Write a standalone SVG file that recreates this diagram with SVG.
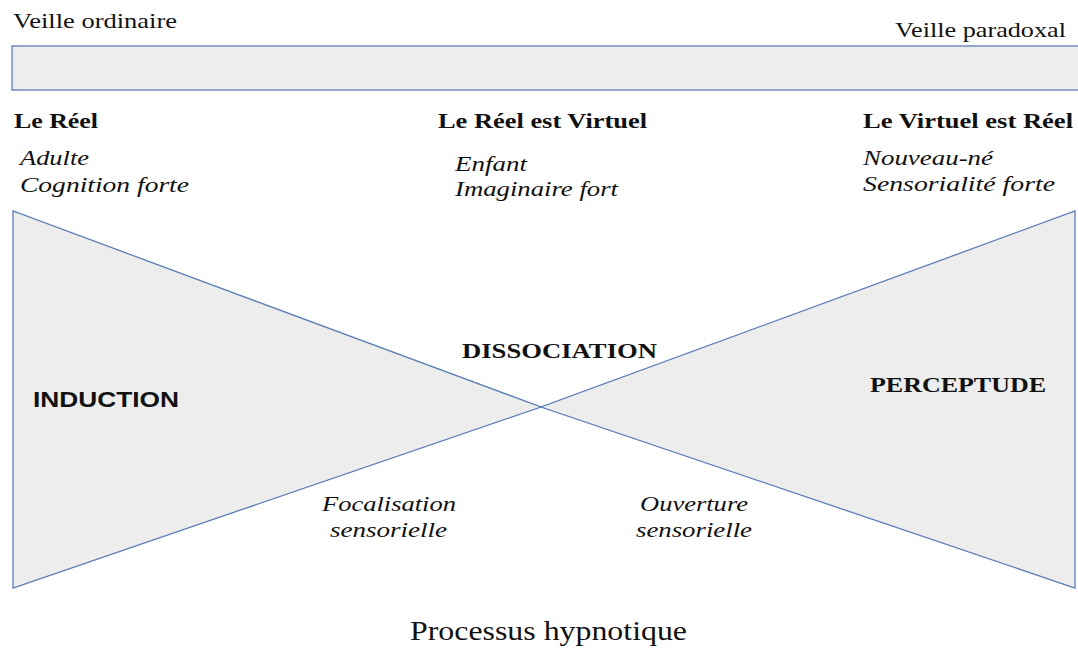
<svg xmlns="http://www.w3.org/2000/svg" width="1078" height="648" viewBox="0 0 1078 648">
<style>
.shape{fill:#ededed;stroke:#5a7db4;stroke-width:1.3}
.t{font-family:"Liberation Serif","Times New Roman",serif;fill:#111;font-size:22px}
.b{font-family:"Liberation Serif","Times New Roman",serif;font-weight:bold;fill:#111;font-size:22px}
.i{font-family:"Liberation Serif","Times New Roman",serif;font-style:italic;fill:#111;font-size:20px}
.s{font-family:"Liberation Sans",Arial,sans-serif;font-weight:bold;fill:#111;font-size:22px}
.cap{font-family:"Liberation Serif","Times New Roman",serif;fill:#111;font-size:27px}
</style>
<rect width="1078" height="648" fill="#ffffff"/>
<g id="bar">
<rect class="shape" x="12" y="46" width="1080" height="44"/>
</g>
<g id="header">
<text class="t" x="13" y="28" textLength="164" lengthAdjust="spacingAndGlyphs">Veille ordinaire</text>
<text class="t" x="895" y="37" textLength="171" lengthAdjust="spacingAndGlyphs">Veille paradoxal</text>
</g>
<g id="col-reel">
<text class="b" x="14" y="128" textLength="84" lengthAdjust="spacingAndGlyphs">Le Réel</text>
<text class="i" x="20" y="165" textLength="69" lengthAdjust="spacingAndGlyphs">Adulte</text>
<text class="i" x="20" y="192" textLength="169" lengthAdjust="spacingAndGlyphs">Cognition  forte</text>
</g>
<g id="col-reel-virtuel">
<text class="b" x="438" y="128" textLength="209" lengthAdjust="spacingAndGlyphs">Le Réel est Virtuel</text>
<text class="i" x="455" y="171" textLength="72" lengthAdjust="spacingAndGlyphs">Enfant</text>
<text class="i" x="455" y="196" textLength="163" lengthAdjust="spacingAndGlyphs">Imaginaire fort</text>
</g>
<g id="col-virtuel-reel">
<text class="b" x="863" y="128" textLength="210" lengthAdjust="spacingAndGlyphs">Le Virtuel est Réel</text>
<text class="i" x="863" y="165" textLength="130" lengthAdjust="spacingAndGlyphs">Nouveau-né</text>
<text class="i" x="863" y="191" textLength="192" lengthAdjust="spacingAndGlyphs">Sensorialité  forte</text>
</g>
<g id="connectors">
<polygon id="induction-shape" class="shape" points="13,211 13,588 541,407"/>
<polygon id="perceptude-shape" class="shape" points="1075,211 1075,588 541,407"/>
</g>
<g id="induction">
<text class="s" x="33" y="407" textLength="146" lengthAdjust="spacingAndGlyphs">INDUCTION</text>
</g>
<g id="dissociation">
<text class="b" x="462" y="358" textLength="195" lengthAdjust="spacingAndGlyphs">DISSOCIATION</text>
</g>
<g id="perceptude">
<text class="b" x="870" y="392" textLength="176" lengthAdjust="spacingAndGlyphs">PERCEPTUDE</text>
</g>
<g id="focalisation">
<text class="i" x="322" y="511" textLength="134" lengthAdjust="spacingAndGlyphs">Focalisation</text>
<text class="i" x="330" y="537" textLength="117" lengthAdjust="spacingAndGlyphs">sensorielle</text>
</g>
<g id="ouverture">
<text class="i" x="640" y="511" textLength="108" lengthAdjust="spacingAndGlyphs">Ouverture</text>
<text class="i" x="636" y="537" textLength="116" lengthAdjust="spacingAndGlyphs">sensorielle</text>
</g>
<g id="caption">
<text class="cap" x="410" y="640" textLength="277" lengthAdjust="spacingAndGlyphs">Processus hypnotique</text>
</g>
</svg>
